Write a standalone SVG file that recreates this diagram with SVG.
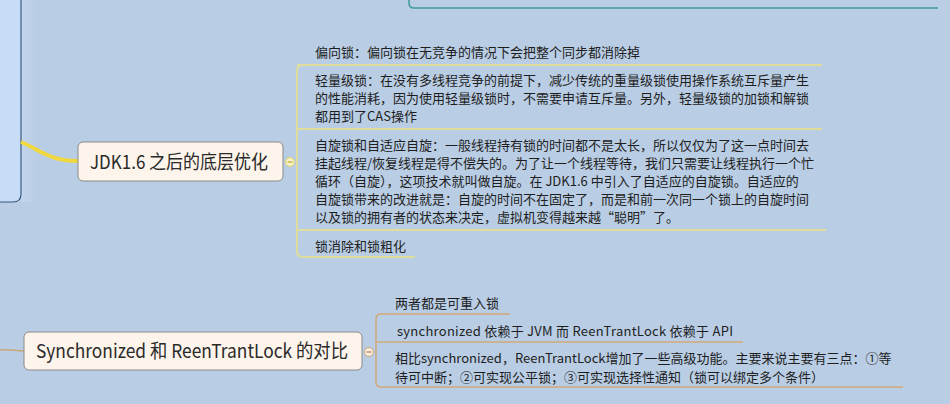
<svg xmlns="http://www.w3.org/2000/svg" width="950" height="404" viewBox="0 0 950 404">
<defs>
<style>
.t{font-family:"Noto Sans CJK SC","Open Sans",sans-serif;font-size:13px;fill:#1e1e1e}
.big{font-family:"Noto Sans CJK SC","Open Sans",sans-serif;font-size:19px;fill:#2a2a2a}
.node{fill:#fdf4ec;stroke:#8a8a8a;stroke-width:1}
.ybr{fill:none;stroke:#dedd9c;stroke-width:2}
.obr{fill:none;stroke:#d2a878;stroke-width:1.5}
</style>
<linearGradient id="sh" x1="0" x2="1" y1="0" y2="0">
<stop offset="0" stop-color="#c4d6ee"/>
<stop offset="1" stop-color="#b9cde4"/>
</linearGradient>
</defs>
<rect x="0" y="0" width="950" height="404" fill="#b9cde4"/>
<rect x="21" y="0" width="16" height="202" fill="url(#sh)"/>
<g id="left-panel">
<path d="M-2,-2 H21 V194 Q21,202 13,202 H-2 Z" fill="#c6dcf7" stroke="#3d5a82" stroke-width="1.2"/>
</g>
<g id="top-box">
<path d="M409,-5 V3 Q409,8 414,8 H938" fill="none" stroke="#3f9a9e" stroke-width="1.5"/>
</g>
<g id="connectors">
<path d="M21,142 C40,150 50,161 78,161" fill="none" stroke="#f0d840" stroke-width="4"/>
<path d="M0,350 C10,349 15,351 24,351" fill="none" stroke="#c8a878" stroke-width="1.5"/>
<path class="ybr" d="M297,129 V71 Q297,65 303,65 H822"/>
<path class="ybr" d="M297,129 H822"/>
<path class="ybr" d="M297,129 V251 Q297,257 303,257 H415"/>
<path class="ybr" d="M297,230 H826"/>
<path d="M297,65 H650" stroke="#dedd9c" stroke-width="2"/>
<path class="obr" d="M376,342 V319 Q376,314 381,314 H510"/>
<path class="obr" d="M376,342 H743"/>
<path class="obr" d="M376,342 V382 Q376,387 381,387 H903"/>
</g>
<g id="node-jdk">
<rect class="node" x="78" y="142" width="205" height="39" rx="5"/>
<text class="big" x="90" y="168.500" textLength="178" lengthAdjust="spacingAndGlyphs">JDK1.6 之后的底层优化</text>
<circle cx="290" cy="162" r="4.500" fill="#f6f2c8" stroke="#e0d060" stroke-width="1"/>
<path d="M287.500,162 H292.500" stroke="#c0a830" stroke-width="1.200"/>
</g>
<g id="jdk-c1">
<text class="t" x="315" y="57">偏向锁：偏向锁在无竞争的情况下会把整个同步都消除掉</text>
</g>
<g id="jdk-c2">
<text class="t" x="315" y="85">轻量级锁：在没有多线程竞争的前提下，减少传统的重量级锁使用操作系统互斥量产生</text>
<text class="t" x="315" y="103">的性能消耗，因为使用轻量级锁时，不需要申请互斥量。另外，轻量级锁的加锁和解锁</text>
<text class="t" x="315" y="121">都用到了CAS操作</text>
</g>
<g id="jdk-c3">
<text class="t" x="315" y="150">自旋锁和自适应自旋：一般线程持有锁的时间都不是太长，所以仅仅为了这一点时间去</text>
<text class="t" x="315" y="168">挂起线程/恢复线程是得不偿失的。为了让一个线程等待，我们只需要让线程执行一个忙</text>
<text class="t" x="315" y="186">循环（自旋），这项技术就叫做自旋。在 JDK1.6 中引入了自适应的自旋锁。自适应的</text>
<text class="t" x="315" y="204">自旋锁带来的改进就是：自旋的时间不在固定了，而是和前一次同一个锁上的自旋时间</text>
<text class="t" x="315" y="222">以及锁的拥有者的状态来决定，虚拟机变得越来越“聪明”了。</text>
</g>
<g id="jdk-c4">
<text class="t" x="315" y="251">锁消除和锁粗化</text>
</g>
<g id="node-sync">
<rect class="node" x="24" y="332" width="338" height="38" rx="5"/>
<text class="big" x="36" y="358" textLength="312" lengthAdjust="spacingAndGlyphs">Synchronized 和 ReenTrantLock 的对比</text>
<circle cx="369" cy="352" r="4.500" fill="#f8eedc" stroke="#d2a070" stroke-width="1"/>
<path d="M366.500,352 H371.500" stroke="#b08050" stroke-width="1.200"/>
</g>
<g id="sync-c1">
<text class="t" x="395" y="308">两者都是可重入锁</text>
</g>
<g id="sync-c2">
<text class="t" x="397" y="336" textLength="336">synchronized 依赖于 JVM 而 ReenTrantLock 依赖于 API</text>
</g>
<g id="sync-c3">
<text class="t" x="395" y="363">相比synchronized，ReenTrantLock增加了一些高级功能。主要来说主要有三点：①等</text>
<text class="t" x="395" y="382">待可中断；②可实现公平锁；③可实现选择性通知（锁可以绑定多个条件）</text>
</g>
</svg>
